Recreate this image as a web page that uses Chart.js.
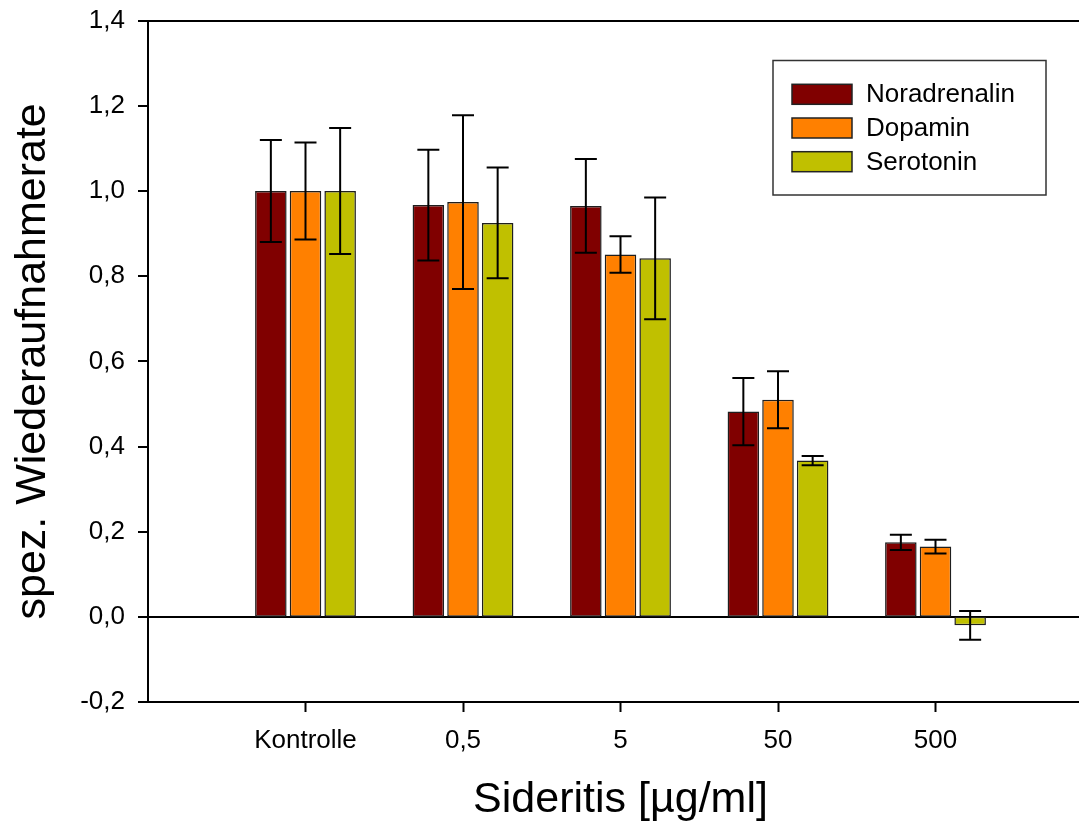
<!DOCTYPE html>
<html>
<head>
<meta charset="utf-8">
<script src="https://cdn.jsdelivr.net/npm/chart.js@4.4.1/dist/chart.umd.min.js"></script>
<style>
  html, body { margin: 0; padding: 0; overflow: hidden; background: #ffffff; }
  #uptakeChart { position: absolute; left: 0; top: 0; }
</style>
</head>
<body>
<canvas id="uptakeChart" width="1093" height="826"></canvas>
<script>
// Sideritis concentrations
const categories = ['Kontrolle', '0,5', '5', '50', '500'];
const seriesNames = ['Noradrenalin', 'Dopamin', 'Serotonin'];

// mean uptake rates
const noradrenalin = [1.0, 0.967, 0.965, 0.482, 0.175];
const dopamin = [1.0, 0.974, 0.851, 0.510, 0.165];
const serotonin = [1.0, 0.925, 0.842, 0.367, -0.020];

// error (+/-)
const errNoradrenalin = [0.120, 0.130, 0.110, 0.079, 0.018];
const errDopamin = [0.114, 0.204, 0.043, 0.067, 0.016];
const errSerotonin = [0.148, 0.130, 0.143, 0.011, 0.034];

const yTickLabels = ['-0,2', '0,0', '0,2', '0,4', '0,6', '0,8', '1,0', '1,2', '1,4'];

const colors = ['#800000', '#ff8000', '#c0c000'];
const FONT = "'Liberation Sans', Arial, sans-serif";

// empty slot before and after the groups
const labels = [''].concat(categories, ['']);
const pad = arr => [null].concat(arr, [null]);

const values = [noradrenalin, dopamin, serotonin];
const errors = [errNoradrenalin, errDopamin, errSerotonin];

const errorBars = {
    id: 'errorBars',
    afterDatasetsDraw(chart) {
        const ctx = chart.ctx;
        const y = chart.scales.y;
        ctx.save();
        ctx.strokeStyle = '#000000';
        ctx.lineWidth = 2;
        chart.data.datasets.forEach((ds, i) => {
            const meta = chart.getDatasetMeta(i);
            meta.data.forEach((bar, j) => {
                const v = ds.data[j];
                const e = ds.errors[j];
                if (v === null || e === null) return;
                const top = y.getPixelForValue(v + e);
                const bot = y.getPixelForValue(v - e);
                ctx.beginPath();
                ctx.moveTo(bar.x, top);
                ctx.lineTo(bar.x, bot);
                ctx.moveTo(bar.x - 11, top);
                ctx.lineTo(bar.x + 11, top);
                ctx.moveTo(bar.x - 11, bot);
                ctx.lineTo(bar.x + 11, bot);
                ctx.stroke();
            });
        });
        ctx.restore();
    }
};

const boxLegend = {
    id: 'boxLegend',
    afterDraw(chart) {
        const ctx = chart.ctx;
        ctx.save();
        ctx.strokeStyle = '#333333';
        ctx.lineWidth = 1.5;
        ctx.strokeRect(773, 60.5, 273, 134.5);
        ctx.font = '26px ' + FONT;
        ctx.textBaseline = 'middle';
        chart.data.datasets.forEach((ds, i) => {
            const cy = 94.3 + i * 33.7;
            ctx.fillStyle = ds.backgroundColor;
            ctx.fillRect(792, cy - 10, 60, 20);
            ctx.strokeStyle = '#222222';
            ctx.lineWidth = 1.5;
            ctx.strokeRect(792, cy - 10, 60, 20);
            ctx.fillStyle = '#000000';
            ctx.fillText(ds.label, 866, cy + 1);
        });
        ctx.restore();
    }
};

new Chart(document.getElementById('uptakeChart'), {
    type: 'bar',
    data: {
        labels: labels,
        datasets: seriesNames.map((name, i) => ({
            label: name,
            data: pad(values[i]),
            errors: pad(errors[i]),
            backgroundColor: colors[i],
            borderColor: '#1e1e1e',
            borderWidth: 1.5,
            borderSkipped: false,
            categoryPercentage: 0.66,
            barPercentage: 0.91,
        }))
    },
    options: {
        responsive: false,
        animation: false,
        layout: {
            padding: { top: 20.7, left: 0, right: 0, bottom: 0 }
        },
        plugins: {
            legend: { display: false },
            tooltip: { enabled: false }
        },
        scales: {
            x: {
                offset: false,
                grid: {
                    offset: false,
                    drawOnChartArea: false,
                    tickLength: 10,
                    tickWidth: 2,
                    tickColor: c => (c.tick && c.tick.label === '' ? 'rgba(0,0,0,0)' : '#000000'),
                },
                border: { color: '#000000', width: 2 },
                ticks: {
                    autoSkip: false,
                    maxRotation: 0,
                    padding: 13,
                    color: '#000000',
                    font: { family: FONT, size: 26 }
                },
                title: {
                    display: true,
                    text: 'Sideritis [µg/ml]',
                    color: '#000000',
                    font: { family: FONT, size: 43 },
                    padding: { top: 0, bottom: 0 }
                },
                afterFit(scale) {
                    scale.height = 124;
                    scale.paddingLeft = 0;
                    scale.paddingRight = 0;
                }
            },
            y: {
                min: -0.2,
                max: 1.4,
                ticks: {
                    stepSize: 0.2,
                    padding: 13,
                    color: '#000000',
                    font: { family: FONT, size: 26 },
                    callback: (value, index) => yTickLabels[index]
                },
                grid: {
                    lineWidth: 2,
                    color: c => (c.tick && (Math.abs(c.tick.value) < 1e-9 || Math.abs(c.tick.value - 1.4) < 1e-9) ? '#000000' : 'rgba(0,0,0,0)'),
                    tickLength: 10,
                    tickWidth: 2,
                    tickColor: '#000000'
                },
                border: { color: '#000000', width: 2 },
                title: {
                    display: true,
                    text: 'spez. Wiederaufnahmerate',
                    color: '#000000',
                    font: { family: FONT, size: 43 },
                    padding: { top: 7, bottom: 0 }
                },
                afterFit(scale) {
                    scale.width = 148;
                    scale.paddingTop = 0;
                    scale.paddingBottom = 0;
                }
            }
        }
    },
    plugins: [errorBars, boxLegend]
});
</script>
</body>
</html>
